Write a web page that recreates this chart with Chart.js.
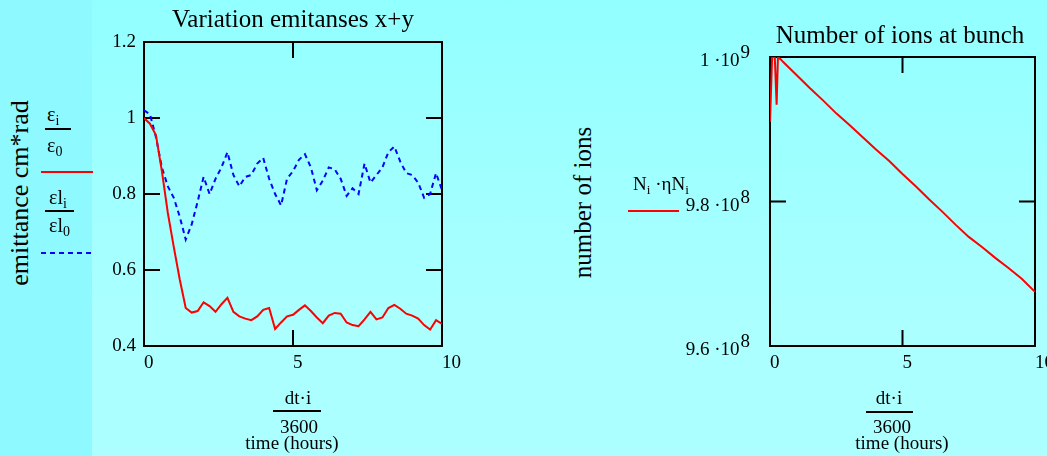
<!DOCTYPE html>
<html>
<head>
<meta charset="utf-8">
<script src="https://cdn.jsdelivr.net/npm/chart.js@4.4.1/dist/chart.umd.min.js"></script>
<style>
  html, body { margin: 0; padding: 0; }
  body {
    width: 1047px; height: 456px; overflow: hidden; position: relative;
    background: linear-gradient(to bottom, #92ffff 0%, #abffff 70%, #adffff 100%);
    font-family: 'Liberation Serif', 'Times New Roman', serif;
    color: #000;
  }
  #strip { position: absolute; left: 0; top: 0; width: 92px; height: 456px; background: #8efaff; }
  .box { position: absolute; }
  .t { position: absolute; white-space: nowrap; line-height: 1; }
  .rule { position: absolute; background: #000; }
  sub.m { font-size: 0.7em; vertical-align: baseline; position: relative; top: 0.28em; }
</style>
</head>
<body>
<div id="strip"></div>
<div class="box" style="left:92px;top:0;width:380px;height:400px"><canvas id="chart1"></canvas></div>
<div class="box" style="left:680px;top:0;width:380px;height:400px"><canvas id="chart2"></canvas></div>
<script>
// time axis (hours) for the emittance traces
const hours = [0, 0.2, 0.4, 0.6, 0.8, 1, 1.2, 1.4, 1.6, 1.8, 2, 2.2, 2.4, 2.6, 2.8, 3, 3.2, 3.4, 3.6, 3.8, 4,
  4.2, 4.4, 4.6, 4.8, 5, 5.2, 5.4, 5.6, 5.8, 6, 6.2, 6.4, 6.6, 6.8, 7, 7.2, 7.4, 7.6, 7.8, 8,
  8.2, 8.4, 8.6, 8.8, 9, 9.2, 9.4, 9.6, 9.8, 10];
// eps_i / eps_0 (red)
const epsRatio = [1.0, 0.985, 0.955, 0.86, 0.75, 0.66, 0.575, 0.5, 0.488, 0.492, 0.515, 0.505, 0.49, 0.51, 0.527, 0.49,
  0.478, 0.472, 0.468, 0.478, 0.495, 0.5, 0.445, 0.462, 0.478, 0.482, 0.495, 0.507, 0.492, 0.475, 0.46,
  0.48, 0.487, 0.485, 0.462, 0.455, 0.452, 0.47, 0.49, 0.47, 0.475, 0.5, 0.508, 0.498, 0.485, 0.48,
  0.472, 0.455, 0.443, 0.468, 0.458];
// el_i / el_0 (blue dashed)
const elRatio = [1.02, 1.01, 0.95, 0.87, 0.82, 0.79, 0.74, 0.68, 0.72, 0.78, 0.845, 0.8, 0.84, 0.87, 0.91, 0.85,
  0.82, 0.845, 0.85, 0.88, 0.895, 0.84, 0.8, 0.77, 0.84, 0.86, 0.89, 0.905, 0.87, 0.81, 0.835,
  0.87, 0.865, 0.84, 0.795, 0.815, 0.8, 0.88, 0.83, 0.85, 0.87, 0.91, 0.925, 0.885, 0.855, 0.85,
  0.83, 0.79, 0.8, 0.855, 0.81];

// number of ions
const ionHours = [0, 0.08, 0.18, 0.25, 0.3, 0.4, 0.5, 1, 1.5, 2, 2.5, 3, 3.5, 4, 4.5, 5, 5.5, 6, 6.5, 7, 7.5,
  8, 8.5, 9, 9.5, 10];
const ions = [9.91e8, 1.0e9, 1.0e9, 9.934e8, 1.0e9, 9.997e8, 9.993e8, 9.975e8, 9.957e8, 9.94e8, 9.922e8,
  9.906e8, 9.889e8, 9.872e8, 9.856e8, 9.838e8, 9.821e8, 9.803e8, 9.786e8, 9.768e8, 9.751e8,
  9.737e8, 9.722e8, 9.708e8, 9.693e8, 9.675e8];
// tick labels as [mantissa part, exponent]
const ionTickLabels = [['9.6 \u00b710', '8'], ['9.8 \u00b710', '8'], ['1 \u00b710', '9']];

const serif = "'Liberation Serif', 'Times New Roman', serif";
const tickFont = { family: serif, size: 19 };

// Mathcad style box with inward ticks on all four sides
const frame = {
  id: 'frame',
  beforeDatasetsDraw(chart) {
    const { ctx, chartArea: a, scales: { x, y } } = chart;
    const len = 16;
    ctx.save();
    ctx.strokeStyle = '#000';
    ctx.lineWidth = 2;
    ctx.strokeRect(a.left, a.top, a.right - a.left, a.bottom - a.top);
    ctx.beginPath();
    x.ticks.forEach(t => {
      const px = x.getPixelForValue(t.value);
      ctx.moveTo(px, a.bottom); ctx.lineTo(px, a.bottom - len);
      ctx.moveTo(px, a.top); ctx.lineTo(px, a.top + len);
    });
    y.ticks.forEach(t => {
      const py = y.getPixelForValue(t.value);
      ctx.moveTo(a.left, py); ctx.lineTo(a.left + len, py);
      ctx.moveTo(a.right, py); ctx.lineTo(a.right - len, py);
    });
    ctx.stroke();
    ctx.restore();
  }
};

// y labels of the ion chart with raised exponent
const sciTicks = {
  id: 'sciTicks',
  afterDraw(chart) {
    const { ctx, chartArea: a, scales: { y } } = chart;
    ctx.save();
    ctx.fillStyle = '#000';
    ctx.textAlign = 'right';
    ctx.textBaseline = 'alphabetic';
    ctx.font = '19px ' + serif;
    y.ticks.forEach((t, i) => {
      const lab = ionTickLabels[i];
      if (!lab) return;
      const py = y.getPixelForValue(t.value);
      const right = a.left - 20;
      const ew = ctx.measureText(lab[1]).width;
      ctx.fillText(lab[1], right, py + 1);
      ctx.fillText(lab[0], right - ew - 1, py + 9);
    });
    ctx.restore();
  }
};

function xScale() {
  return {
    type: 'linear', min: 0, max: 10,
    ticks: { stepSize: 5, font: tickFont, color: '#000', padding: 6, maxRotation: 0, align: 'start' },
    grid: { display: false, drawTicks: false },
    border: { display: false },
    afterFit(s) { s.height = 30; }
  };
}

const config1 = {
  type: 'line',
  data: {
    datasets: [{
      data: hours.map((h, i) => ({ x: h, y: epsRatio[i] })),
      borderColor: '#ff0000',
      borderWidth: 2,
      pointRadius: 0,
      tension: 0
    }, {
      data: hours.map((h, i) => ({ x: h, y: elRatio[i] })),
      borderColor: '#0000ff',
      borderWidth: 2,
      borderDash: [5, 4],
      pointRadius: 0,
      tension: 0
    }]
  },
  options: {
    responsive: true,
    maintainAspectRatio: false,
    animation: false,
    layout: { padding: { top: 42, right: 30, bottom: 24, left: 0 } },
    plugins: { legend: { display: false }, title: { display: false }, tooltip: { enabled: false } },
    scales: {
      x: xScale(),
      y: {
        min: 0.4, max: 1.2,
        ticks: { stepSize: 0.2, font: tickFont, color: '#000', padding: 8, callback: v => String(+v.toFixed(1)) },
        grid: { display: false, drawTicks: false },
        border: { display: false },
        afterFit(s) { s.width = 52; }
      }
    }
  },
  plugins: [frame]
};

const config2 = {
  type: 'line',
  data: {
    datasets: [{
      data: ionHours.map((h, i) => ({ x: h, y: ions[i] })),
      borderColor: '#ff0000',
      borderWidth: 2,
      pointRadius: 0,
      tension: 0
    }]
  },
  options: {
    responsive: true,
    maintainAspectRatio: false,
    animation: false,
    layout: { padding: { top: 57, right: 25, bottom: 24, left: 0 } },
    plugins: { legend: { display: false }, title: { display: false }, tooltip: { enabled: false } },
    scales: {
      x: xScale(),
      y: {
        min: 9.6e8, max: 1e9,
        ticks: { stepSize: 2e7, display: false },
        grid: { display: false, drawTicks: false },
        border: { display: false },
        afterFit(s) { s.width = 90; }
      }
    }
  },
  plugins: [frame, sciTicks]
};

var myChart1 = new Chart(document.getElementById('chart1'), config1);
var myChart2 = new Chart(document.getElementById('chart2'), config2);

// static Mathcad annotations
function txt(html, x, base, size, align) {
  const d = document.createElement('div');
  d.className = 't';
  d.innerHTML = html;
  d.style.fontSize = size + 'px';
  d.style.top = (base - 0.8375 * size) + 'px';
  if (align === 'center') {
    d.style.left = (x - 200) + 'px'; d.style.width = '400px'; d.style.textAlign = 'center';
  } else {
    d.style.left = x + 'px';
  }
  document.body.appendChild(d);
  return d;
}
function rule(x, y, w, h, bg) {
  const d = document.createElement('div');
  d.className = 'rule';
  Object.assign(d.style, { left: x + 'px', top: y + 'px', width: w + 'px', height: h + 'px' });
  if (bg) d.style.background = bg;
  document.body.appendChild(d);
}
function vtxt(s, cx, cy, size) {
  const d = document.createElement('div');
  d.className = 't';
  d.textContent = s;
  Object.assign(d.style, {
    fontSize: size + 'px', width: '300px', textAlign: 'center',
    left: (cx - 150) + 'px', top: (cy - size / 2) + 'px', transform: 'rotate(-90deg)'
  });
  document.body.appendChild(d);
}

txt('Variation emitanses x+y', 293, 27, 25, 'center');
txt('Number of ions at bunch', 900, 43, 25, 'center');
vtxt('emittance cm*rad', 20, 193, 26);
vtxt('number of ions', 582, 202, 25);

txt('\u03b5<sub class="m">i</sub>', 47, 121, 20);
rule(45, 128, 26, 1.5);
txt('\u03b5<sub class="m">0</sub>', 47, 152, 20);
rule(41, 170.5, 52, 2, '#ff0000');
txt('\u03b5l<sub class="m">i</sub>', 49, 204, 20);
rule(45, 210, 29, 1.5);
txt('\u03b5l<sub class="m">0</sub>', 49, 232, 20);
rule(41, 252, 52, 2, 'repeating-linear-gradient(to right, #0000ff 0 5px, transparent 5px 9px)');

txt('N<sub class="m">i</sub> \u00b7\u03b7N<sub class="m">i</sub>', 633, 190, 19);
rule(628, 210, 51, 2, '#ff0000');

txt('dt\u00b7i', 298, 404, 19, 'center');
rule(273, 410, 48, 1.5);
txt('3600', 299, 433, 19, 'center');
txt('time (hours)', 292, 449, 19, 'center');

txt('dt\u00b7i', 889, 404, 19, 'center');
rule(866, 411, 47, 1.5);
txt('3600', 892, 433, 19, 'center');
txt('time (hours)', 902, 449, 19, 'center');
</script>
</body>
</html>
